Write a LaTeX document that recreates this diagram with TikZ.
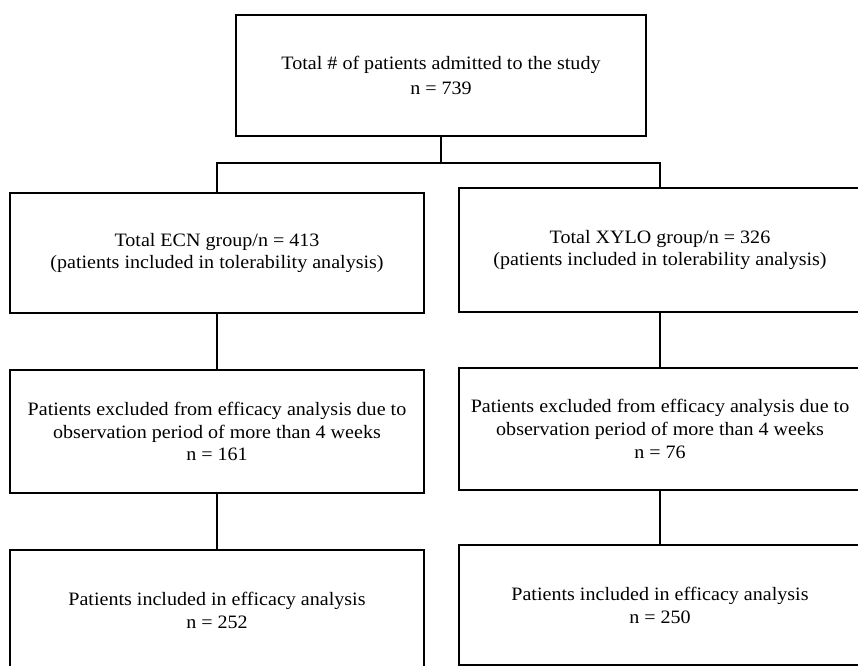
\documentclass[tikz,border=0pt]{standalone}
\usepackage{fontspec}
\setmainfont{Liberation Serif}[FakeStretch=1.06]
\begin{document}
\begin{tikzpicture}[x=1bp,y=-1bp,
  box/.style={draw, line width=1.5bp, rectangle, inner sep=0pt, align=center,
    font=\fontsize{19}{23}\selectfont},
  conn/.style={line width=1.2bp}]
\useasboundingbox (0,0) rectangle (858,666);
\node[box, minimum width=410bp, minimum height=121bp] (top) at (441,75.5)
  {Total \# of patients admitted to the study\\[2bp] n = 739};
\node[box, minimum width=414bp, minimum height=120bp] (ecn) at (217,253)
  {Total ECN group/n = 413\\(patients included in tolerability analysis)};
\node[box, minimum width=402bp, minimum height=124bp] (xylo) at (660,250)
  {Total XYLO group/n = 326\\(patients included in tolerability analysis)};
\node[box, minimum width=414bp, minimum height=123bp] (exl) at (217,431.5)
  {Patients excluded from efficacy analysis due to\\observation period of more than 4 weeks\\n = 161};
\node[box, minimum width=402bp, minimum height=122bp] (exr) at (660,429)
  {Patients excluded from efficacy analysis due to\\observation period of more than 4 weeks\\n = 76};
\node[box, minimum width=414bp, minimum height=120bp] (inl) at (217,610)
  {Patients included in efficacy analysis\\n = 252};
\node[box, minimum width=402bp, minimum height=120bp] (inr) at (660,605)
  {Patients included in efficacy analysis\\n = 250};
\coordinate (split) at (441,163);
\draw[conn] (top.south) -- (split);
\draw[conn] (ecn.north) -- (ecn.north |- split) -- (xylo.north |- split) -- (xylo.north);
\draw[conn] (ecn.south) -- (exl.north);
\draw[conn] (exl.south) -- (inl.north);
\draw[conn] (xylo.south) -- (exr.north);
\draw[conn] (exr.south) -- (inr.north);
\end{tikzpicture}
\end{document}
